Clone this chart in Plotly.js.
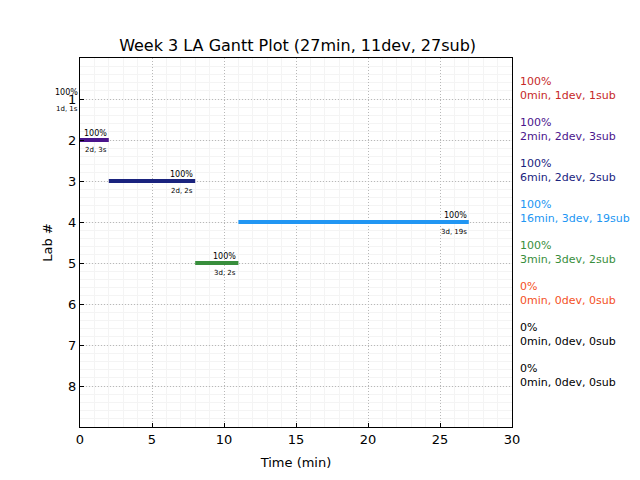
<!DOCTYPE html>
<html>
<head>
<meta charset="utf-8">
<script src="https://cdn.plot.ly/plotly-3.0.1.min.js"></script>
<style>body{margin:0;} #plot{width:640px;height:480px;}</style>
</head>
<body>
<div id="plot"></div>
<script>
// per-lab values
let labs = [1, 2, 3, 4, 5, 6, 7, 8];
let starts = [0, 0, 2, 11, 8, 0, 0, 0];
let ends = [0, 2, 8, 27, 11, 0, 0, 0];
let pct = [100, 100, 100, 100, 100, 0, 0, 0];
let mins = [0, 2, 6, 16, 3, 0, 0, 0];
let devs = [1, 2, 2, 3, 3, 0, 0, 0];
let subs = [1, 3, 2, 19, 2, 0, 0, 0];
let colors = ['#c62828', '#4a148c', '#1a237e', '#2196f3', '#388e3c', '#f4511e', '#000000', '#000000'];

let data = [];
let annotations = [];
let font = 'DejaVu Sans, sans-serif';

labs.forEach(function(lab, i) {
  if (devs[i] > 0) {
    data.push({
      x: [starts[i], ends[i]],
      y: [lab, lab],
      mode: 'lines',
      line: {color: colors[i], width: 4},
      showlegend: false,
      hoverinfo: 'skip'
    });
    annotations.push({
      x: ends[i], y: lab, xref: 'x', yref: 'y',
      text: pct[i] + '%', showarrow: false,
      xanchor: 'right', yanchor: 'bottom', yshift: 0,
      font: {family: font, size: 8, color: '#000'}
    });
    annotations.push({
      x: ends[i], y: lab, xref: 'x', yref: 'y',
      text: devs[i] + 'd, ' + subs[i] + 's', showarrow: false,
      xanchor: 'right', yanchor: 'top', yshift: -4,
      font: {family: font, size: 7, color: '#000'}
    });
  }
  annotations.push({
    x: 1.013, y: lab - 0.25, xref: 'paper', yref: 'y',
    text: pct[i] + '%<br>' + mins[i] + 'min, ' + devs[i] + 'dev, ' + subs[i] + 'sub',
    showarrow: false, align: 'left',
    xanchor: 'left', yanchor: 'middle',
    font: {family: font, size: 11, color: colors[i]}
  });
});

let layout = {
  width: 640, height: 480,
  margin: {l: 80, r: 128, t: 58, b: 53},
  paper_bgcolor: 'white', plot_bgcolor: 'white',
  font: {family: font, size: 13, color: '#000'},
  title: {text: 'Week 3 LA Gantt Plot (27min, 11dev, 27sub)', x: 0.465, xanchor: 'center',
    y: 0.906, yref: 'container', yanchor: 'middle', font: {size: 16}},
  xaxis: {
    range: [0, 30], dtick: 5, showline: true, linecolor: '#000', linewidth: 1, mirror: true,
    ticks: 'inside', ticklen: 4, tickcolor: '#000', zeroline: false,
    showgrid: true, gridcolor: '#b8b8b8', griddash: '1px,2px', gridwidth: 1,
    minor: {dtick: 1, showgrid: true, gridcolor: '#f4f4f4', griddash: 'solid', gridwidth: 1},
    title: {text: 'Time (min)', font: {size: 13}, standoff: 12}
  },
  yaxis: {
    range: [9, 0], tickvals: labs, showline: true, linecolor: '#000', linewidth: 1, mirror: true,
    ticks: 'inside', ticklen: 4, tickcolor: '#000', zeroline: false,
    showgrid: true, gridcolor: '#b8b8b8', griddash: '1px,2px', gridwidth: 1,
    minor: {dtick: 0.2, showgrid: true, gridcolor: '#f4f4f4', griddash: 'solid', gridwidth: 1},
    title: {text: 'Lab #', font: {size: 13}, standoff: 12}
  },
  annotations: annotations
};

Plotly.newPlot('plot', data, layout, {displayModeBar: false});
</script>
</body>
</html>
